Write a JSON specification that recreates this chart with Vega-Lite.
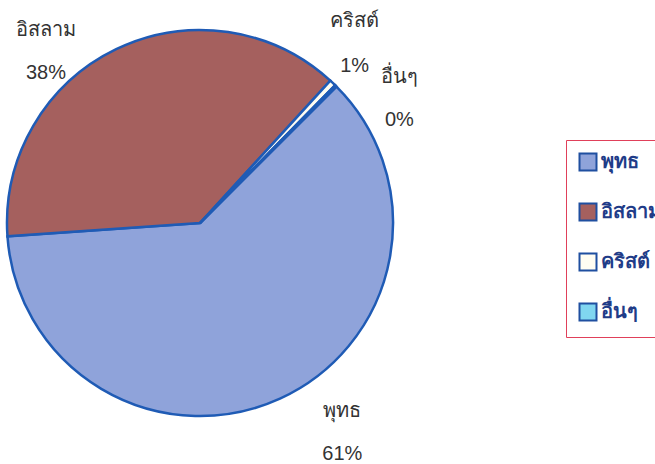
{
  "$schema": "https://vega.github.io/schema/vega-lite/v6.json",
  "width": 400,
  "height": 446,
  "autosize": {"type": "none"},
  "padding": {"left": 0, "top": 0, "right": 255, "bottom": 18},
  "background": "white",
  "config": {"view": {"stroke": null}, "font": "Liberation Sans"},
  "data": {
    "values": [
      {"religion": "พุทธ", "value": 61.4, "label": "พุทธ\n61%", "order": 1},
      {"religion": "อิสลาม", "value": 37.9, "label": "อิสลาม\n38%", "order": 2},
      {"religion": "คริสต์", "value": 0.55, "label": "คริสต์\n1%", "order": 3},
      {"religion": "อื่นๆ", "value": 0.15, "label": "อื่นๆ\n0%", "order": 4}
    ]
  },
  "encoding": {
    "theta": {"field": "value", "type": "quantitative", "stack": true, "scale": {"range": [0.7854, 7.0686]}},
    "order": {"field": "order", "type": "quantitative"}
  },
  "layer": [
    {
      "mark": {"type": "arc", "outerRadius": 193, "stroke": "#1F5BB5", "strokeWidth": 2.5},
      "encoding": {
        "color": {
          "field": "religion",
          "type": "nominal",
          "sort": ["พุทธ", "อิสลาม", "คริสต์", "อื่นๆ"],
          "scale": {"domain": ["พุทธ", "อิสลาม", "คริสต์", "อื่นๆ"], "range": ["#8FA3DA", "#A5605E", "#FFFDF2", "#80D6F0"]},
          "legend": {
            "orient": "none",
            "legendX": 566,
            "legendY": 140,
            "title": null,
            "symbolType": "square",
            "symbolSize": 289,
            "symbolStrokeColor": "#1F4FA0",
            "symbolStrokeWidth": 2,
            "labelFontSize": 20,
            "labelFontWeight": "bold",
            "labelColor": "#1F3C88",
            "strokeColor": "#E0405A",
            "padding": 12,
            "rowPadding": 24,
            "labelOffset": 3
          }
        }
      }
    },
    {
      "mark": {"type": "text", "radius": 235, "dx": 45, "dy": -26, "lineBreak": "\n", "lineHeight": 43, "fontSize": 20, "fill": "#333333"},
      "encoding": {"text": {"condition": {"test": "datum.religion === 'พุทธ'", "field": "label"}, "value": ""}}
    },
    {
      "mark": {"type": "text", "radius": 235, "dx": -52, "dy": 19, "lineBreak": "\n", "lineHeight": 43, "fontSize": 20, "fill": "#333333"},
      "encoding": {"text": {"condition": {"test": "datum.religion === 'อิสลาม'", "field": "label"}, "value": ""}}
    },
    {
      "mark": {"type": "text", "radius": 235, "dx": -7, "dy": -31, "lineBreak": "\n", "lineHeight": 45, "fontSize": 20, "fill": "#333333"},
      "encoding": {"text": {"condition": {"test": "datum.religion === 'คริสต์'", "field": "label"}, "value": ""}}
    },
    {
      "mark": {"type": "text", "radius": 235, "dx": 34, "dy": 21, "lineBreak": "\n", "lineHeight": 43, "fontSize": 20, "fill": "#333333"},
      "encoding": {"text": {"condition": {"test": "datum.religion === 'อื่นๆ'", "field": "label"}, "value": ""}}
    }
  ]
}
